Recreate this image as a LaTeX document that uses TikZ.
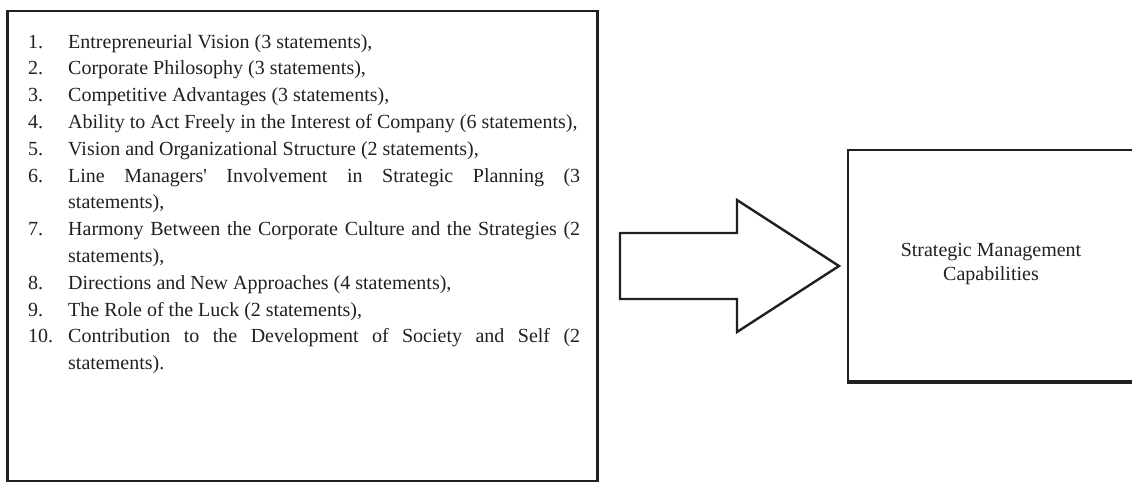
\documentclass[tikz,border=0pt]{standalone}
\usepackage{fontspec}
\setmainfont{Liberation Serif}[Ligatures=TeXOff]
\usetikzlibrary{calc}
\definecolor{ink}{HTML}{231F20}
\definecolor{txt}{HTML}{231F20}
\tikzset{
  frame/.style={draw=ink, line width=2.6pt},
  blockarrow/.style={draw=ink, line width=2.4pt, line join=miter, fill=white},
  listtext/.style={anchor=north west, inner sep=0pt, text width=552pt, align=justify, text=txt,
     font=\fontsize{20}{26.8}\selectfont},
  boxtext/.style={align=center, inner sep=0pt, text=txt, font=\fontsize{20}{24}\selectfont}
}
\newcommand{\itm}[2]{\hangindent=40pt\hangafter=1\noindent\makebox[40pt][l]{#1}#2\par}
\begin{document}
\begin{tikzpicture}[x=1pt,y=-1pt]
\useasboundingbox (0,0) rectangle (1132,483);
% left box
\draw[frame] (7.5,11) rectangle (597.5,481);
\node[listtext] (list) at (28,34) {%
\itm{1.}{Entrepreneurial Vision (3 statements),}
\itm{2.}{Corporate Philosophy (3 statements),}
\itm{3.}{Competitive Advantages (3 statements),}
\itm{4.}{Ability to Act Freely in the Interest of Company (6 statements),}
\itm{5.}{Vision and Organizational Structure (2 statements),}
\itm{6.}{Line Managers' Involvement in Strategic Planning (3\linebreak statements),}
\itm{7.}{Harmony Between the Corporate Culture and the Strategies (2\linebreak statements),}
\itm{8.}{Directions and New Approaches (4 statements),}
\itm{9.}{The Role of the Luck (2 statements),}
\itm{10.}{Contribution to the Development of Society and Self (2\linebreak statements).}
};
% right box
\draw[frame] (848,150) rectangle (1140,381);
\draw[ink, line width=2pt] (847,383) -- (1132,383);
\node[boxtext] (cap) at (991,264) {Strategic Management\\Capabilities};
% block arrow
\coordinate (tail) at (620,266);
\coordinate (tip) at (839,266);
\draw[blockarrow] ($(tail)+(0,-33)$) -- (737,233) -- (737,200) -- (tip) -- (737,332) -- (737,299) -- ($(tail)+(0,33)$) -- cycle;
\end{tikzpicture}
\end{document}
